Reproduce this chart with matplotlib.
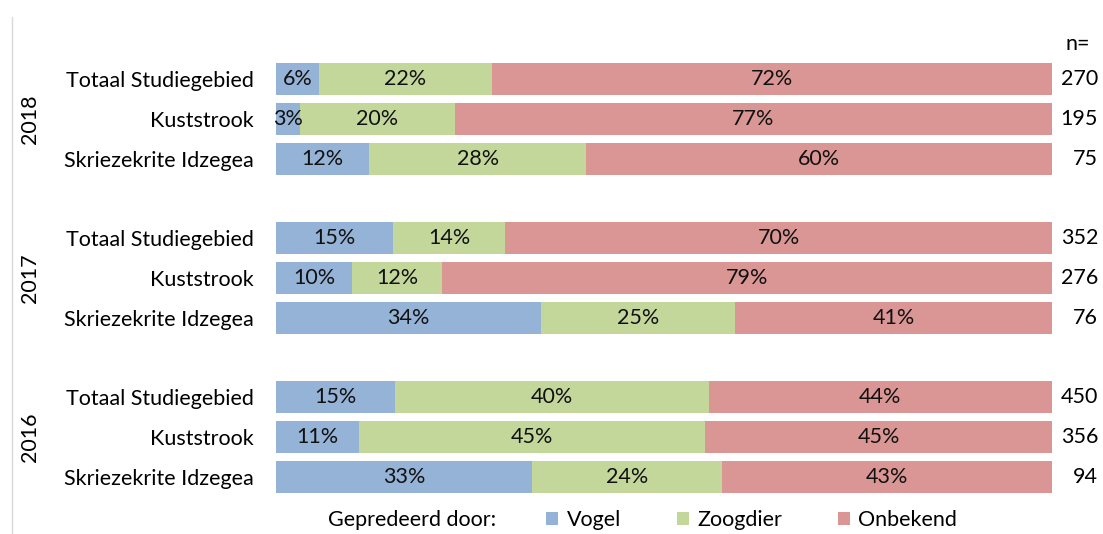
import matplotlib
matplotlib.use('Agg')
import matplotlib.pyplot as plt
from matplotlib.lines import Line2D
from matplotlib.transforms import blended_transform_factory
import numpy as np

plt.rcParams['font.family'] = ['Lato', 'DejaVu Sans']

# data: counts per row (read as percentages of n off the chart)
years = ['2018', '2017', '2016']
areas = ['Totaal Studiegebied', 'Kuststrook', 'Skriezekrite Idzegea']
series = ['Vogel', 'Zoogdier', 'Onbekend']
vogel = [15, 6, 9, 53, 27, 26, 69, 38, 31]
zoogdier = [60, 39, 21, 51, 32, 19, 182, 159, 23]
onbekend = [195, 150, 45, 248, 217, 31, 199, 159, 40]
colors = ['#95B3D7', '#C4D79B', '#D99694']

counts = np.array([vogel, zoogdier, onbekend], dtype=float)
n = counts.sum(axis=0)
shares = counts / n

# row positions: three rows per year, one empty row between years
ypos = [g * 4 + r for g in range(len(years)) for r in range(len(areas))]

W, H = 1103, 534
fig = plt.figure(figsize=(W / 100, H / 100), dpi=100)
ax = fig.add_axes([276 / W, (H - 496.9) / H, 776 / W, 437.8 / H])

fs = 15.5
left = np.zeros(len(ypos))
for vals, name, col in zip(shares, series, colors):
    bars = ax.barh(ypos, vals, left=left, height=0.8, color=col, label=name, linewidth=0)
    ax.bar_label(bars, labels=[f'{v * 100:.0f}%' for v in vals], label_type='center',
                 fontsize=fs, color='#111111')
    left += vals

ax.set_xlim(0, 1)
ax.set_ylim(10.5, -0.5)
ax.set_xticks([])
ax.set_yticks(ypos, areas * len(years), fontsize=fs)
ax.tick_params(axis='y', length=0, pad=16)
for s in ax.spines.values():
    s.set_visible(False)

# year labels
tr = blended_transform_factory(fig.transFigure, ax.transData)
for g, yr in enumerate(years):
    ax.text(30 / W, g * 4 + 1, yr, transform=tr, rotation=90, ha='center', va='center',
            fontsize=fs)

# n= column
tr2 = blended_transform_factory(ax.transAxes, ax.transData)
ax.text(1 + 38 / 776, -0.88, 'n=', transform=tr2, ha='right', va='center', fontsize=fs)
for y, v in zip(ypos, n):
    ax.text(1 + 46 / 776, y, f'{v:.0f}', transform=tr2, ha='right', va='center', fontsize=fs)

# thin line on the left
fig.add_artist(Line2D([12 / W, 12 / W], [0, 1 - 17 / H], transform=fig.transFigure,
                      color='#d9d9d9', linewidth=1))

# legend
fig.text(328 / W, (H - 520) / H, 'Gepredeerd door:', ha='left', va='center', fontsize=fs)
fig.legend(loc='center left', bbox_to_anchor=(546 / W, (H - 520) / H), ncol=3, frameon=False,
           fontsize=fs, handlelength=0.55, handleheight=0.55, handletextpad=0.4,
           columnspacing=2.6, borderaxespad=0, borderpad=0)

fig.savefig('out.png', dpi=100)
